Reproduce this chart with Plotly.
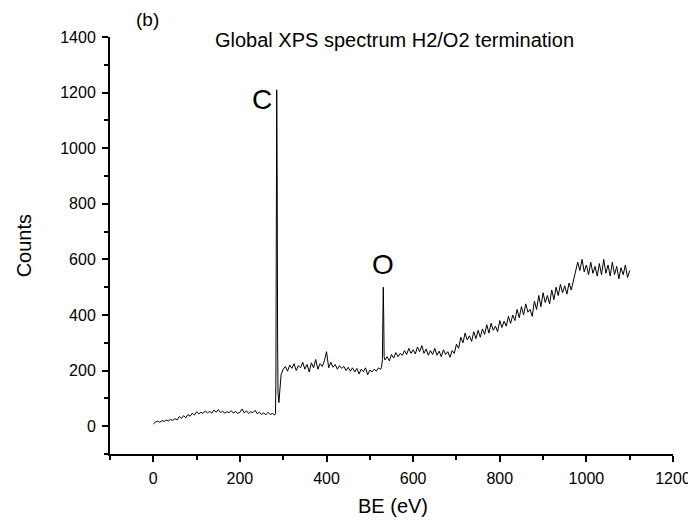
import plotly.graph_objects as go

# Binding energy grid segments (eV)
be_low = list(range(0, 281, 5))
be_c_peak = [282, 283, 284, 285, 286, 287, 288, 290, 292, 295]
be_mid = list(range(300, 526, 5))
be_o_peak = [527, 529, 530, 531, 532, 533]
be_high = list(range(535, 1101, 5))

counts_low = [8, 15, 18, 14, 20, 17, 22, 19, 24, 21,
              27, 23, 35, 28, 38, 30, 42, 36, 47, 40,
              52, 44, 50, 46, 55, 48, 53, 47, 58, 50,
              60, 49, 54, 47, 52, 49, 56, 47, 53, 46,
              50, 62, 48, 55, 46, 52, 49, 57, 45, 50,
              43, 48, 41, 50, 42, 46, 40]
counts_c_peak = [45, 150, 700, 1210, 900, 300, 120, 85, 130, 185]
counts_mid = [205, 215, 198, 220, 208, 225, 200, 218, 210, 230,
              205, 222, 195, 228, 210, 240, 205, 225, 215, 235,
              268, 210, 230, 212, 222, 205, 218, 208, 215, 200,
              212, 198, 210, 195, 208, 188, 205, 196, 210, 185,
              202, 195, 205, 198, 210, 205]
counts_o_peak = [212, 240, 380, 500, 400, 250]
counts_high = [238, 250, 235, 258, 245, 265, 250, 262, 255, 272,
               258, 280, 262, 275, 260, 285, 268, 290, 262, 278,
               255, 272, 258, 280, 255, 270, 250, 275, 258, 268,
               248, 272, 262, 295, 280, 320, 300, 335, 310, 325,
               305, 340, 315, 345, 320, 350, 330, 365, 335, 370,
               345, 360, 340, 380, 355, 378, 360, 395, 370, 400,
               380, 420, 390, 430, 400, 440, 410, 420, 395, 450,
               420, 470, 430, 480, 445, 470, 440, 490, 455, 500,
               470, 510, 480, 505, 475, 515, 490, 520, 560, 590,
               560, 600, 555, 580, 545, 590, 550, 575, 540, 585,
               545, 600, 550, 580, 540, 590, 545, 575, 530, 570,
               545, 580, 535, 560]

be = be_low + be_c_peak + be_mid + be_o_peak + be_high
counts = counts_low + counts_c_peak + counts_mid + counts_o_peak + counts_high

x_ticks = [0, 200, 400, 600, 800, 1000, 1200]
y_ticks = [0, 200, 400, 600, 800, 1000, 1200, 1400]

peak_labels = ["C", "O"]
peak_label_x = [251, 531]
peak_label_y = [1175, 583]

FONT = "Liberation Sans, Arial, sans-serif"

fig = go.Figure()
fig.add_trace(go.Scatter(x=be, y=counts, mode="lines",
                         line=dict(color="black", width=1), showlegend=False))

for t, xx, yy in zip(peak_labels, peak_label_x, peak_label_y):
    fig.add_annotation(x=xx, y=yy, text=t, showarrow=False,
                       xanchor="center", yanchor="middle",
                       font=dict(family=FONT, size=28, color="black"))

texts = [
    dict(x=0.066, y=1.043, text="(b)", size=19, angle=0),
    dict(x=0.506, y=0.993, text="Global XPS spectrum H2/O2 termination", size=20, angle=0),
    dict(x=0.503, y=-0.125, text="BE (eV)", size=20, angle=0),
    dict(x=-0.153, y=0.5, text="Counts", size=20, angle=-90),
]
for t in texts:
    fig.add_annotation(xref="paper", yref="paper", x=t["x"], y=t["y"], text=t["text"],
                       textangle=t["angle"], showarrow=False,
                       xanchor="center", yanchor="middle",
                       font=dict(family=FONT, size=t["size"], color="black"))

axis_common = dict(showline=True, linecolor="black", linewidth=2, ticks="outside",
                   ticklen=6, tickwidth=2, tickcolor="black", showgrid=False,
                   zeroline=False, mirror=False, ticklabelstandoff=3,
                   tickfont=dict(family=FONT, size=16, color="black"))

fig.update_xaxes(range=[-100, 1200], tickmode="array", tickvals=x_ticks,
                 minor=dict(dtick=100, tick0=0, ticks="outside", ticklen=4,
                            tickwidth=2, tickcolor="black", showgrid=False),
                 **axis_common)
fig.update_yaxes(range=[-100, 1400], tickmode="array", tickvals=y_ticks,
                 minor=dict(dtick=100, tick0=0, ticks="outside", ticklen=4,
                            tickwidth=2, tickcolor="black", showgrid=False),
                 **axis_common)

# page body adds an 8px margin, so the figure is offset accordingly
fig.update_layout(width=688, height=517, plot_bgcolor="white", paper_bgcolor="white",
                  margin=dict(l=102, r=23, t=29, b=71, autoexpand=False))

fig.write_html("out.html")
